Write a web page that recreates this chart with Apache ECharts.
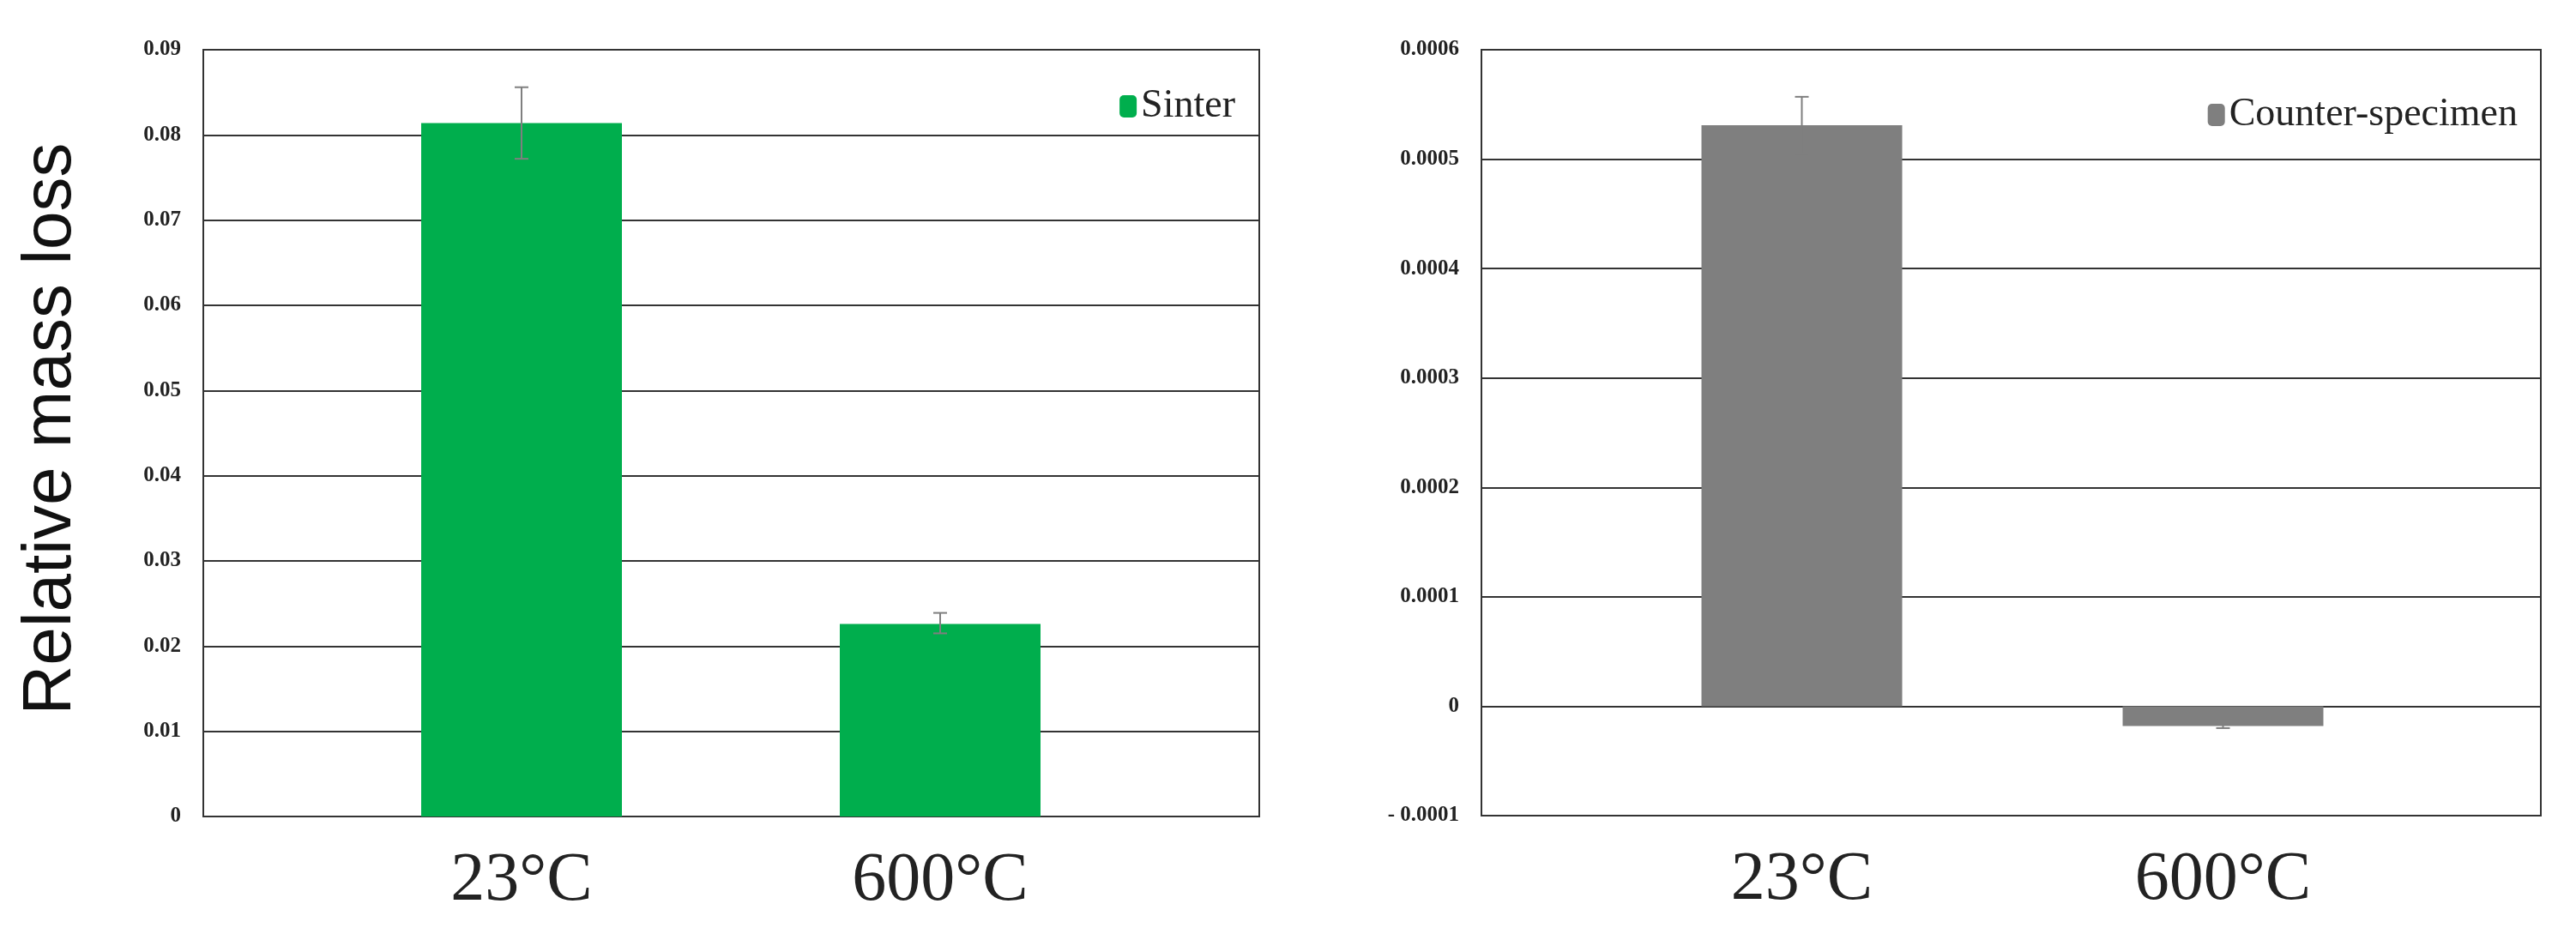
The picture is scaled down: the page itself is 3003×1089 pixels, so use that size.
<!DOCTYPE html>
<html><head><meta charset="utf-8">
<script src="https://cdn.jsdelivr.net/npm/echarts@6/dist/echarts.min.js"></script>
<style>html,body{margin:0;padding:0;background:#fff}#c{width:3003px;height:1089px}</style>
</head><body><div id="c"></div>
<script>
var categories = ['23°C', '600°C'];
var sinterValues = [0.0814, 0.0226];
var sinterErrLow = [0.0772, 0.0215];
var sinterErrHigh = [0.0856, 0.0239];
var counterValues = [0.000531, -0.000018];
var counterErrLow = [0.000505, -0.000020];
var counterErrHigh = [0.000557, -0.000016];
var leftTicks = {min: 0, max: 0.09, interval: 0.01};
var rightTicks = {min: -0.0001, max: 0.0006, interval: 0.0001};

var FN = 'Liberation Sans Narrow';
var chart = echarts.init(document.getElementById('c'));
function errSeries(xi, yi, low, high) {
  return {
    type: 'custom', xAxisIndex: xi, yAxisIndex: yi, z: 10,
    data: low.map(function (l, i) { return [i, l, high[i]]; }),
    renderItem: function (params, api) {
      var a = api.coord([api.value(0), api.value(1)]);
      var b = api.coord([api.value(0), api.value(2)]);
      var s = {stroke: '#7f7f7f', lineWidth: 2};
      return {type: 'group', children: [
        {type: 'line', shape: {x1: a[0], y1: a[1], x2: b[0], y2: b[1]}, style: s},
        {type: 'line', shape: {x1: a[0] - 8, y1: a[1], x2: a[0] + 8, y2: a[1]}, style: s},
        {type: 'line', shape: {x1: b[0] - 8, y1: b[1], x2: b[0] + 8, y2: b[1]}, style: s}
      ]};
    }
  };
}
function frameY(gi, t) {
  return {gridIndex: gi, type: 'value', min: t.min, max: t.max, interval: t.interval,
    axisLine: {show: false}, axisTick: {show: false},
    splitLine: {show: true, lineStyle: {color: '#333', width: 2}},
    axisLabel: {fontFamily: FN, fontWeight: 'bold', fontSize: 25, color: '#222', margin: 26,
      formatter: function (v) { var s = String(+v.toFixed(6)); return s.charAt(0) === '-' ? '- ' + s.slice(1) : s; }}};
}
function barY(gi, t) {
  return {gridIndex: gi, type: 'value', min: t.min, max: t.max, interval: t.interval, show: false, splitLine: {show: false}};
}
function hiddenX(gi) {
  return {gridIndex: gi, type: 'category', data: categories, show: false};
}
function barX(gi) {
  return {gridIndex: gi, type: 'category', data: categories,
    axisLine: {show: false}, axisTick: {show: false},
    axisLabel: {fontFamily: FN, fontSize: 80, color: '#222', margin: 36}};
}
chart.setOption({
  animation: false,
  grid: [
    {left: 237, right: 3003 - 1468, top: 58, bottom: 1089 - 952, show: true, borderColor: '#333', borderWidth: 2, backgroundColor: 'transparent'},
    {left: 364, right: 3003 - 1340, top: 58, bottom: 1089 - 952},
    {left: 1727, right: 3003 - 2962, top: 58, bottom: 1089 - 951, show: true, borderColor: '#333', borderWidth: 2, backgroundColor: 'transparent'},
    {left: 1855, right: 3003 - 2837, top: 58, bottom: 1089 - 951}
  ],
  xAxis: [hiddenX(0), barX(1), hiddenX(2), barX(3)],
  yAxis: [frameY(0, leftTicks), barY(1, leftTicks), frameY(2, rightTicks), barY(3, rightTicks)],
  legend: [
    {data: ['Sinter'], right: 3003 - 1445, top: 96, itemWidth: 20, itemHeight: 26, itemGap: 10,
      textStyle: {fontFamily: FN, fontSize: 46, color: '#222'}},
    {data: ['Counter-specimen'], right: 3003 - 2940, top: 106, itemWidth: 20, itemHeight: 26,
      textStyle: {fontFamily: FN, fontSize: 46, color: '#222'}}
  ],
  graphic: [{type: 'text', rotation: Math.PI / 2, x: 20, y: 500,
    style: {text: 'Relative mass loss', font: '80px "Liberation Sans"', fill: '#111', align: 'center', verticalAlign: 'top'}}],
  series: [
    {name: 'Sinter', type: 'bar', xAxisIndex: 1, yAxisIndex: 1, data: sinterValues, barWidth: 234, itemStyle: {color: '#00ae4d'}},
    errSeries(1, 1, sinterErrLow, sinterErrHigh),
    {name: 'Counter-specimen', type: 'bar', xAxisIndex: 3, yAxisIndex: 3, data: counterValues, barWidth: 234, itemStyle: {color: '#7f7f7f'}},
    errSeries(3, 3, counterErrLow, counterErrHigh)
  ]
});
</script></body></html>
